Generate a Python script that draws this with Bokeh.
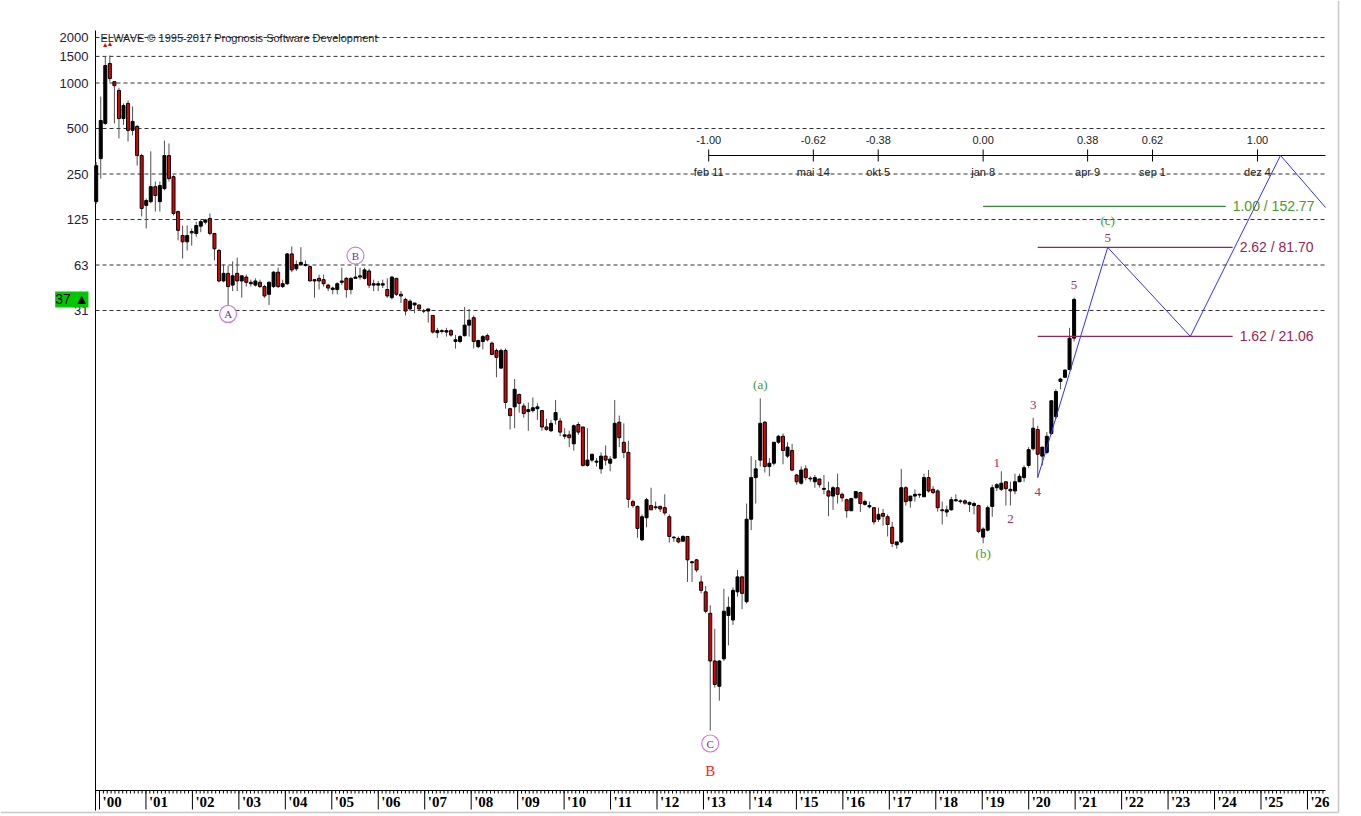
import datetime as dt
from bokeh.plotting import figure
from bokeh.models import Range1d, FixedTicker, Label
from bokeh.core.properties import value
from bokeh.embed import file_html
from bokeh.resources import INLINE

# ---------------- data ----------------
opens = [164, 316, 540, 1346, 1020, 893, 582, 732, 486, 516, 331, 155, 164, 206, 164, 200, 331, 240, 141, 98,
         89, 104, 101, 113, 120, 127, 101, 78, 49, 55, 46, 55, 49, 52, 48, 46, 48, 45, 40, 45,
         56, 45, 47, 74, 59, 63, 62, 61, 49, 51, 50, 46, 43, 43, 48, 51, 43, 51, 53, 51,
         57, 46, 46, 46, 43, 38, 51, 40, 37, 32, 34, 34, 31, 31, 29, 22.3, 23, 22.5, 23, 19.5,
         19.5, 21.3, 25, 28, 18, 19.5, 21.3, 19, 17, 13, 17, 7, 7.2, 8.7, 7.3, 6.7, 6.8, 7.0, 6.8, 5.3,
         5.0, 5.9, 5.8, 4.6, 4.7, 4.1, 5.5, 5.3, 2.95, 3.2, 3.1, 2.8, 3.4, 3.05, 3.3, 5.7, 4.2, 3.6, 1.7, 1.58,
         0.95, 1.33, 1.6, 1.55, 1.58, 1.55, 1.35, 0.98, 0.97, 0.93, 1.0, 0.67, 0.7, 0.5, 0.43, 0.31, 0.15, 0.102, 0.155, 0.3,
         0.28, 0.43, 0.54, 0.37, 1.3, 2.45, 3.2, 5.7, 2.9, 3.05, 4.2, 4.6, 3.4, 3.7, 2.55, 2.25, 2.8, 2.4, 2.3, 2.4,
         2.05, 2.0, 1.85, 2.1, 1.9, 1.75, 1.48, 1.8, 1.95, 1.63, 1.57, 1.55, 1.3, 1.42, 1.35, 1.15, 0.88, 0.92, 2.1, 1.72,
         1.85, 1.9, 1.83, 2.45, 2.05, 2.0, 1.5, 1.45, 1.5, 1.72, 1.72, 1.72, 1.63, 1.6, 1.6, 0.99, 1.1, 1.58, 2.1, 2.05,
         2.3, 2.05, 2.0, 2.3, 2.45, 2.95, 3.8, 5.1, 3.4, 3.6, 4.8, 6.2, 10.6, 11.3, 12.7, 20.5]
highs = [300, 814, 1500, 1520, 1030, 930, 732, 766, 699, 528, 340, 172, 353, 223, 223, 416, 398, 245, 143, 114,
         114, 109, 121, 124, 126, 137, 102, 80, 63, 62, 66, 70, 53, 54, 50, 51, 50, 46, 49, 57,
         60, 50, 75, 83, 67, 82, 67, 62, 50, 54, 54, 47, 45, 48, 60, 52, 52, 61, 60, 60,
         59, 50, 49, 50, 51, 53, 51, 42, 38, 37, 35, 34, 32, 32, 29, 24, 23.5, 24, 23.5, 21.5,
         21.5, 33, 32, 29, 20, 21.5, 22, 19.5, 17.5, 17.5, 17.5, 7.1, 11, 8.8, 7.6, 7.7, 8.3, 7.6, 6.8, 6.0,
         5.9, 8.0, 6.1, 5.2, 5.0, 5.5, 5.7, 5.3, 5.2, 3.5, 3.3, 3.6, 4.0, 3.4, 8.0, 6.3, 5.6, 4.3, 1.75, 1.6,
         1.4, 1.8, 2.1, 1.7, 1.6, 1.9, 1.4, 1.0, 1.0, 1.02, 1.0, 0.69, 0.71, 0.55, 0.47, 0.35, 0.245, 0.152, 0.45, 0.4,
         0.46, 0.6, 0.55, 1.65, 3.4, 3.2, 8.2, 5.8, 3.3, 4.2, 4.7, 4.8, 4.2, 4.1, 2.6, 2.9, 2.95, 2.5, 2.55, 2.4,
         2.55, 2.3, 2.15, 2.6, 1.95, 1.78, 1.8, 2.0, 1.98, 1.75, 1.7, 1.55, 1.55, 1.52, 1.4, 1.25, 0.92, 2.8, 2.15, 1.85,
         2.05, 1.92, 2.6, 2.75, 2.15, 2.05, 1.7, 1.6, 1.83, 1.9, 1.76, 1.76, 1.7, 1.7, 1.62, 1.15, 1.6, 2.2, 2.25, 2.7,
         2.3, 2.3, 2.6, 2.6, 2.95, 3.9, 6.1, 5.4, 3.9, 4.9, 8.0, 9.4, 11.2, 12.8, 24, 38]
lows = [158, 233, 528, 1020, 540, 430, 528, 410, 450, 284, 131, 109, 160, 141, 141, 195, 223, 133, 91, 69,
        78, 84, 96, 103, 116, 98, 67, 48, 48, 34, 42, 42, 38, 45, 45, 45, 44, 38, 34, 44,
        44, 44, 46, 56, 57, 62, 61, 49, 38, 43, 45, 42, 40, 40, 46, 38, 40, 51, 50, 50,
        44, 42, 42, 44, 38, 37, 39, 35, 29, 31, 30, 31, 30, 26, 22, 20.6, 22, 21, 21, 17.5,
        19, 21, 21, 17.5, 17.6, 17.3, 19.5, 15.8, 11.3, 12.8, 7, 5.1, 5.2, 6.6, 6.1, 5.0, 6.6, 5.9, 5.0, 5.0,
        4.9, 5.5, 4.6, 4.4, 3.9, 3.7, 4.7, 2.9, 2.9, 3.1, 2.9, 2.6, 2.95, 2.7, 3.25, 3.9, 3.3, 1.55, 1.55, 0.98,
        0.93, 1.15, 1.5, 1.5, 1.45, 1.38, 0.91, 0.92, 0.9, 0.92, 0.5, 0.5, 0.58, 0.42, 0.31, 0.052, 0.1, 0.082, 0.15, 0.19,
        0.26, 0.4, 0.33, 0.36, 1.1, 1.65, 2.9, 2.65, 2.5, 2.95, 4.1, 3.0, 3.3, 2.7, 2.2, 2.2, 2.35, 2.3, 2.1, 2.1,
        1.9, 1.36, 1.5, 1.65, 1.7, 1.33, 1.47, 1.78, 1.45, 1.6, 1.53, 1.2, 1.25, 1.18, 1.0, 0.85, 0.83, 0.9, 1.6, 1.55,
        1.7, 1.8, 1.83, 1.95, 1.9, 1.46, 1.2, 1.35, 1.48, 1.7, 1.65, 1.62, 1.45, 1.4, 1.05, 0.9, 1.08, 1.35, 2.0, 2.0,
        1.6, 1.6, 1.9, 2.3, 2.3, 2.85, 3.7, 2.45, 2.95, 3.5, 4.7, 6.0, 9.4, 11.2, 12.6, 19.5]
closes = [284, 565, 1305, 1070, 960, 582, 710, 486, 557, 331, 148, 167, 206, 180, 210, 331, 233, 137, 106, 89,
          98, 102, 114, 121, 124, 101, 80, 49, 55, 45, 53, 49, 53, 48, 47, 49, 45, 39, 48, 56,
          45, 47, 74, 58, 63, 65, 63, 49, 50, 49, 47, 44, 44, 47, 49, 43, 51, 52, 52, 58,
          46, 47, 47, 47, 39, 52, 40, 39, 31, 36, 35, 32, 31, 32, 22.5, 23, 22.7, 23, 21.5, 20,
          21, 25, 27, 19.5, 19.8, 21, 20, 16, 15.3, 17, 7.7, 6.3, 9.4, 7.6, 6.5, 6.9, 7.1, 7.2, 5.3, 5.1,
          5.6, 6.6, 4.9, 4.7, 4.5, 5.4, 4.9, 2.95, 3.2, 3.5, 3.15, 3.4, 3.2, 3.25, 5.6, 4.5, 3.6, 1.76, 1.6, 1.13,
          1.35, 1.75, 1.5, 1.57, 1.52, 1.43, 1.0, 0.99, 0.92, 1.0, 0.7, 0.68, 0.6, 0.44, 0.32, 0.15, 0.105, 0.15, 0.32, 0.34,
          0.44, 0.54, 0.42, 1.3, 2.45, 2.8, 5.6, 2.9, 3.05, 4.2, 4.6, 3.7, 3.9, 2.75, 2.3, 2.75, 2.45, 2.43, 2.45, 2.2,
          2.08, 1.85, 2.1, 1.9, 1.8, 1.48, 1.78, 1.98, 1.65, 1.7, 1.6, 1.25, 1.4, 1.36, 1.2, 0.9, 0.92, 2.1, 1.7, 1.85,
          1.9, 1.88, 2.45, 2.0, 1.95, 1.55, 1.48, 1.5, 1.75, 1.75, 1.7, 1.66, 1.68, 1.65, 1.08, 1.12, 1.55, 2.1, 2.2, 2.25,
          2.07, 2.0, 2.3, 2.5, 2.85, 3.75, 5.2, 3.5, 3.9, 4.6, 7.9, 9.1, 11.0, 12.6, 20.5, 37]
BAR_START = 1999.929      # decimal year of the first bar
BAR_STEP = 0.0979         # one bar is about five weeks

grid_values = [2000, 1500, 1000, 500, 250, 125, 62.5, 31.25]
grid_labels = ["2000", "1500", "1000", "500", "250", "125", "63", "31"]
years = list(range(2000, 2027))
year_labels = ["'%02d" % (y % 100) for y in years]

ruler_ratios = ["-1.00", "-0.62", "-0.38", "0.00", "0.38", "0.62", "1.00"]
ruler_dates = ["2013-02-11", "2015-05-14", "2016-10-05", "2019-01-08", "2021-04-09", "2022-09-01", "2024-12-04"]
ruler_date_labels = ["feb 11", "mai 14", "okt 5", "jan 8", "apr 9", "sep 1", "dez 4"]

fib_texts = ["1.00 / 152.77", "2.62 / 81.70", "1.62 / 21.06"]
fib_values = [152.77, 81.70, 21.06]
fib_start_bar = [195, 207, 207]
fib_end_year = [2024.24, 2024.39, 2024.39]

proj_years = [None, 2021.70, 2023.48, 2025.42, 2026.39]   # first point = wave 4 bar
proj_values = [2.45, 81.70, 21.06, 332.0, 150.0]

last_price = 37

# wave labels: text, bar index, price anchor, pixel offset (+ = down), style
wave_labels = [
    ("A", 29, 34, 9, "circ"), ("B", 57, 61, -11, "circ"), ("C", 135, 0.052, 13, "circ"),
    ("B", 135, 0.052, 40, "red"),
    ("(a)", 146, 8.2, -14, "green"), ("(b)", 195, 0.9, 10, "green"),
    ("1", 198, 2.25, -20, "wave"), ("2", 201, 1.6, 13, "wave"), ("3", 206, 6.1, -13, "wave"),
    ("4", 207, 2.45, 14, "wave"), ("5", 215, 38, -13, "wave"),
]

# ---------------- geometry (canvas pixels) ----------------
W, H = 1341, 814
AXIS_PX, RIGHT_PX, BASE_PX, TOP_PX = 95, 1325, 790, 30
PX_YEAR = 46.46                   # pixels per year
OCT = 45.5                        # pixels per price octave
X_AXIS = 1999.914                 # year at the price axis


def xc(px):   # canvas px -> year
    return X_AXIS + (px - AXIS_PX) / PX_YEAR


def yc(py):   # canvas px -> price
    return 2000 / 2 ** ((py - 37) / OCT)


def shift(price, px):
    return price / 2 ** (px / OCT)


def decyear(s):
    d = dt.date.fromisoformat(s)
    return d.year + (d - dt.date(d.year, 1, 1)).days / 365.25


X_RIGHT = xc(RIGHT_PX)
bar_x = [BAR_START + i * BAR_STEP for i in range(len(closes))]

p = figure(width=W, height=H, output_backend="svg", toolbar_location=None,
           x_range=Range1d(xc(0), xc(W)), y_range=Range1d(yc(H), yc(0)),
           y_axis_type="log", x_axis_location=None,
           min_border_left=0, min_border_top=0, min_border_right=0, min_border_bottom=0)
p.outline_line_color = None
p.background_fill_color = "white"
p.border_fill_color = "white"
p.xgrid.visible = False
p.ygrid.visible = False

ax = p.yaxis[0]
ax.fixed_location = X_AXIS
ax.ticker = FixedTicker(ticks=grid_values)
ax.major_label_overrides = {v: t for v, t in zip(grid_values, grid_labels)}
ax.major_tick_out = 0
ax.major_tick_in = 0
ax.minor_tick_line_color = None
ax.axis_line_color = None
ax.major_label_standoff = 7
ax.major_label_text_font = "Liberation Sans"
ax.major_label_text_font_size = "13px"
ax.major_label_text_color = "#202040"

# window border (light gray, right and bottom)
p.segment(x0=[xc(1338), xc(0)], x1=[xc(1338), xc(1338)], y0=[yc(0), yc(812)], y1=[yc(812), yc(812)],
          line_color="#c8c8c8", line_width=1.5)

# price axis line and dashed grid
p.segment(x0=[X_AXIS], x1=[X_AXIS], y0=[yc(TOP_PX)], y1=[yc(810)], line_color="black", line_width=1)
p.segment(x0=[X_AXIS] * len(grid_values), x1=[X_RIGHT] * len(grid_values), y0=grid_values, y1=grid_values,
          line_color="#333333", line_dash="4 3", line_width=1)

# ---- time axis ----
y_base = yc(BASE_PX)
p.segment(x0=[X_AXIS], x1=[X_RIGHT], y0=[y_base], y1=[y_base], line_color="black", line_width=1)
months = [y + m / 12 for y in range(1999, 2027) for m in range(12) if X_AXIS < y + m / 12 < X_RIGHT]
p.segment(x0=months, x1=months, y0=[y_base] * len(months), y1=[yc(BASE_PX + 3)] * len(months),
          line_color="black", line_width=1)
yrs = [y for y in years if X_AXIS <= y <= X_RIGHT]
p.segment(x0=yrs, x1=yrs, y0=[y_base] * len(yrs), y1=[yc(BASE_PX + 19)] * len(yrs), line_color="black", line_width=1)
p.text(x=yrs, y=[yc(BASE_PX + 11)] * len(yrs), text=[year_labels[years.index(y)] for y in yrs],
       x_offset=3, text_align="left", text_baseline="middle",
       text_font=value("Liberation Sans Narrow"), text_font_style="bold", text_font_size="15px",
       text_color="black")

# ---- candles ----
up = [c >= o for o, c in zip(opens, closes)]
p.segment(x0=bar_x, x1=bar_x, y0=lows, y1=highs, line_color="#505050", line_width=1)
p.vbar(x=bar_x, width=3 / PX_YEAR, top=[max(o, c) for o, c in zip(opens, closes)],
       bottom=[min(o, c) for o, c in zip(opens, closes)],
       fill_color=["black" if u else "#e00000" for u in up], line_color="black", line_width=1)

# ---- title ----
p.text(x=[xc(100)], y=[2000], text=["ELWAVE © 1995-2017 Prognosis Software Development"],
       text_align="left", text_baseline="middle", text_font=value("Liberation Sans"),
       text_font_size="11px", text_color="#222222")
p.text(x=[bar_x[2], bar_x[3]], y=[highs[2], highs[3]], text=["▲", "▲"], y_offset=-12,
       text_align="center", text_baseline="middle", text_font_size="7px", text_color="#e00000")

# ---- ratio/time ruler ----
rx = [decyear(s) for s in ruler_dates]
y_r = yc(155)
p.segment(x0=[rx[0]], x1=[X_RIGHT], y0=[y_r], y1=[y_r], line_color="black", line_width=1)
p.segment(x0=rx, x1=rx, y0=[yc(149)] * len(rx), y1=[yc(161)] * len(rx), line_color="black", line_width=1)
p.text(x=rx, y=[yc(139)] * len(rx), text=ruler_ratios, text_align="center", text_baseline="middle",
       text_font=value("Liberation Sans"), text_font_size="11px", text_color="#222222")
p.text(x=rx, y=[yc(171)] * len(rx), text=ruler_date_labels, text_align="center", text_baseline="middle",
       text_font=value("Liberation Sans"), text_font_size="11px", text_color="#222222")

# ---- fibonacci targets ----
fib_colors = ["#2e8b2e", "#9b2257", "#9b2257"]
fib_text_colors = ["#4c9a2a", "#9b2257", "#9b2257"]
for v, t, sb, ex, lc, tc in zip(fib_values, fib_texts, fib_start_bar, fib_end_year, fib_colors, fib_text_colors):
    p.segment(x0=[bar_x[sb]], x1=[ex], y0=[v], y1=[v], line_color=lc, line_width=1.2)
    p.text(x=[ex], y=[v], text=[t], x_offset=7, text_align="left", text_baseline="middle",
           text_font=value("Liberation Sans"), text_font_size="14px", text_color=tc)

# ---- projection path ----
px_ = [bar_x[207]] + proj_years[1:]
p.line(x=px_, y=proj_values, line_color="#3030ff", line_width=1)

# ---- wave labels ----
styles = {"circ": ("#7a2aa0", "Liberation Serif", "11px"),
          "red": ("#ff2020", "Liberation Serif", "15px"),
          "green": ("#3c9c3c", "Liberation Serif", "13px"),
          "wave": ("#a0306a", "Liberation Serif", "13px")}
for t, b, pr, off, st in wave_labels:
    col, fnt, fs = styles[st]
    yy = shift(pr, off)
    if st == "circ":
        p.scatter(x=[bar_x[b]], y=[yy], marker="circle", size=17, fill_color="white",
                  line_color="#d27ad8", line_width=1.2)
    p.text(x=[bar_x[b]], y=[yy], text=[t], text_align="center", text_baseline="middle",
           text_font=value(fnt), text_font_size=fs, text_color=col)
p.text(x=[proj_years[1]], y=[shift(proj_values[1], -27)], text=["(c)"], text_align="center",
       text_baseline="middle", text_font=value("Liberation Serif"), text_font_size="13px", text_color="#3c9c3c")
p.text(x=[proj_years[1]], y=[shift(proj_values[1], -9)], text=["5"], text_align="center",
       text_baseline="middle", text_font=value("Liberation Serif"), text_font_size="13px", text_color="#a0306a")

# ---- last price marker ----
p.add_layout(Label(x=xc(88), y=last_price, text="%d ▲" % last_price,
                   text_align="right", text_baseline="middle", text_font="Liberation Sans",
                   text_font_size="14px", text_color="black", background_fill_color="#00c800"))

open("out.html", "w").write(file_html(p, INLINE))
